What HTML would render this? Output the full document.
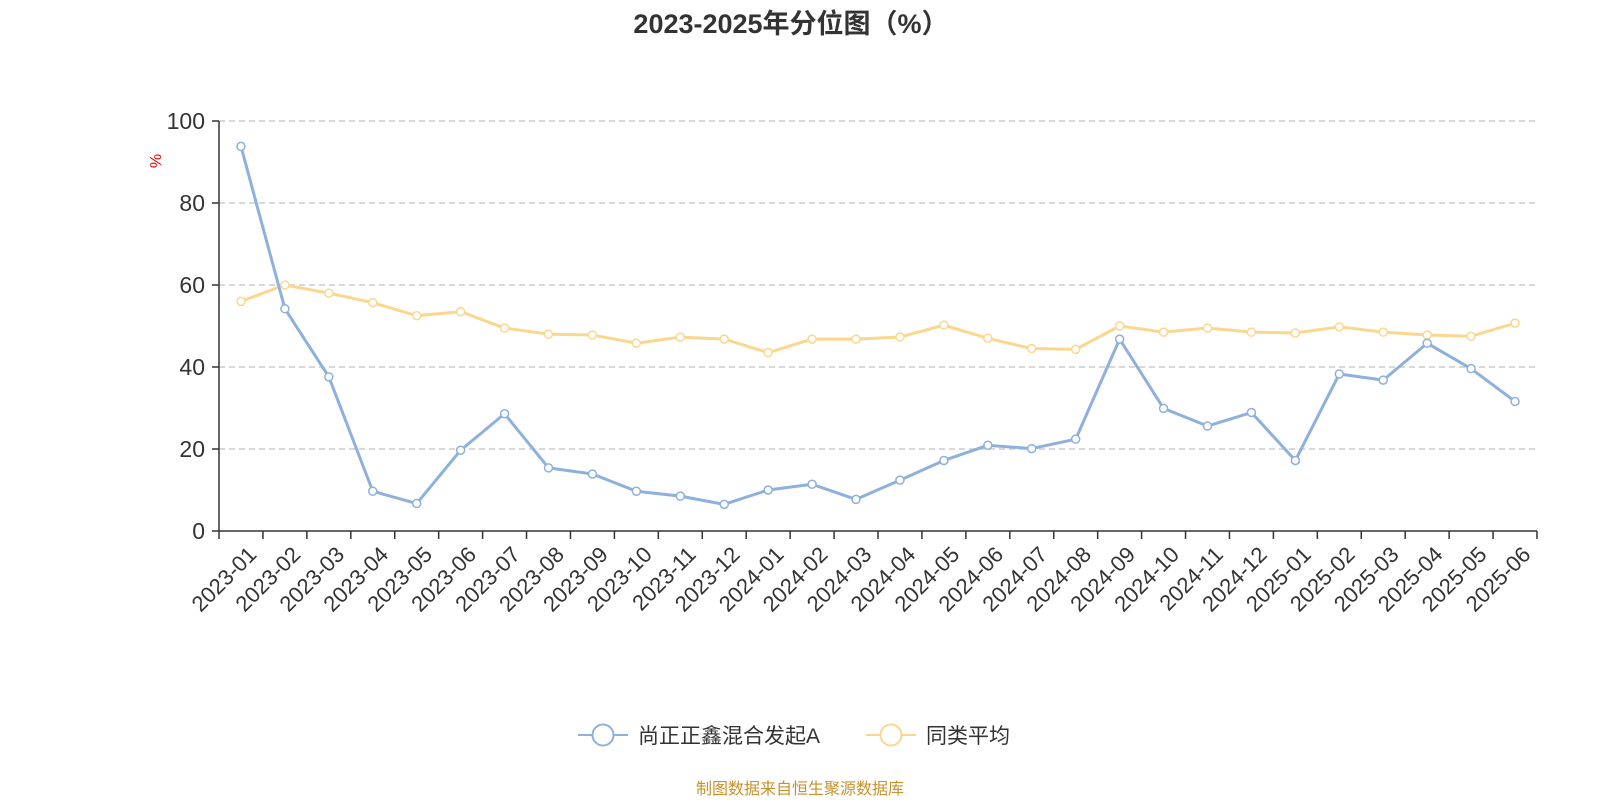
<!DOCTYPE html>
<html><head><meta charset="utf-8">
<style>
body{margin:0;background:#fff;width:1600px;height:800px;overflow:hidden;font-family:"Liberation Sans","Noto Sans CJK SC",sans-serif;}
</style></head>
<body>
<svg id="chart" width="1600" height="800" xmlns="http://www.w3.org/2000/svg" font-family="Liberation Sans, Noto Sans CJK SC, sans-serif">
<text x="791" y="33" text-anchor="middle" font-size="27" font-weight="bold" fill="#333">2023-2025年分位图（%）</text>
<text x="161" y="161" font-size="16" fill="#e00" transform="rotate(-90 161 161)" text-anchor="middle">%</text>
<g id="grid"></g><g id="axes"></g><g id="series"></g>
<g>
<g>
<line x1="578" y1="735" x2="628" y2="735" stroke="#8eb0dd" stroke-width="2"/>
<circle cx="603" cy="735" r="10.5" fill="#fff" stroke="#8eb0dd" stroke-width="2"/>
<text x="638" y="743" font-size="21" fill="#333">尚正正鑫混合发起A</text></g>
<g>
<line x1="866" y1="735" x2="916" y2="735" stroke="#fbd78e" stroke-width="2"/>
<circle cx="891" cy="735" r="10.5" fill="#fff" stroke="#fbd78e" stroke-width="2"/>
<text x="926" y="743" font-size="21" fill="#333">同类平均</text></g>
</g>
<text x="800" y="794" text-anchor="middle" font-size="16" fill="#c8922a">制图数据来自恒生聚源数据库</text>
</svg>
<script>
const categories=["2023-01","2023-02","2023-03","2023-04","2023-05","2023-06","2023-07","2023-08","2023-09","2023-10","2023-11","2023-12","2024-01","2024-02","2024-03","2024-04","2024-05","2024-06","2024-07","2024-08","2024-09","2024-10","2024-11","2024-12","2025-01","2025-02","2025-03","2025-04","2025-05","2025-06"];
const fundValues=[93.8,54.2,37.6,9.7,6.7,19.7,28.6,15.4,13.9,9.7,8.5,6.5,10,11.4,7.7,12.4,17.2,20.9,20.1,22.4,46.8,29.9,25.6,28.9,17.2,38.3,36.8,45.8,39.6,31.6];
const avgValues=[56,60,58,55.7,52.5,53.5,49.5,48,47.8,45.8,47.3,46.8,43.5,46.8,46.8,47.3,50.2,47,44.5,44.3,50,48.5,49.5,48.5,48.3,49.8,48.5,47.8,47.5,50.7];
const yTicks=[0,20,40,60,80,100];
const NS="http://www.w3.org/2000/svg";
const x0=219,x1=1537,yBase=531,yTop=121;
const bw=(x1-x0)/categories.length;
const xPos=i=>x0+bw*(i+0.5);
const yPos=v=>yBase-(v/100)*(yBase-yTop);
function mk(tag,attrs,parent){const e=document.createElementNS(NS,tag);for(const k in attrs)e.setAttribute(k,attrs[k]);parent.appendChild(e);return e;}
const grid=document.getElementById('grid'),axes=document.getElementById('axes'),series=document.getElementById('series');
yTicks.forEach(t=>{
 const y=yPos(t);
 if(t>0){const g=mk('line',{x1:x0,x2:x1,y1:y,y2:y,stroke:'#ccc','stroke-dasharray':'6,4','stroke-width':1.5},grid);
 
 }
 const tk=mk('line',{x1:x0-7,x2:x0,y1:y,y2:y,stroke:'#333','stroke-width':1.5},axes);
 
 
 const lb=mk('text',{x:x0-14,y:y+8,'text-anchor':'end','font-size':'23',fill:'#333'},axes);
 lb.textContent=t;
 
 
});
const ya=mk('line',{x1:x0,x2:x0,y1:yTop,y2:yBase,stroke:'#333','stroke-width':1.5},axes);


const xa=mk('line',{x1:x0,x2:x1,y1:yBase,y2:yBase,stroke:'#333','stroke-width':1.5},axes);


for(let i=0;i<=categories.length;i++){
 const x=x0+bw*i;
 const tk=mk('line',{x1:x,x2:x,y1:yBase,y2:yBase+8,stroke:'#333','stroke-width':1.5},axes);
 
 
}
categories.forEach((c,i)=>{
 const x=xPos(i)+6,y=yBase+14;
 const lb=mk('text',{x:x,y:y,'text-anchor':'end','font-size':'22',fill:'#333',transform:`rotate(-45 ${x} ${y})`,dy:'0.7em'},axes);
 lb.textContent=c;
 
 
});
function drawSeries(vals,color,name){
 const g=mk('g',{},series);
 
 
 const p=mk('polyline',{points:vals.map((v,i)=>xPos(i)+','+yPos(v)).join(' '),fill:'none',stroke:color,'stroke-width':3,'stroke-linejoin':'round'},g);
 
 
 vals.forEach((v,i)=>{
  const c=mk('circle',{cx:xPos(i),cy:yPos(v),r:4,fill:'#fff',stroke:color,'stroke-width':1.5},g);
  
  
 });
}
drawSeries(avgValues,'#fbd78e','average-series');
drawSeries(fundValues,'#8eb0dd','fund-series');
</script>
</body></html>
